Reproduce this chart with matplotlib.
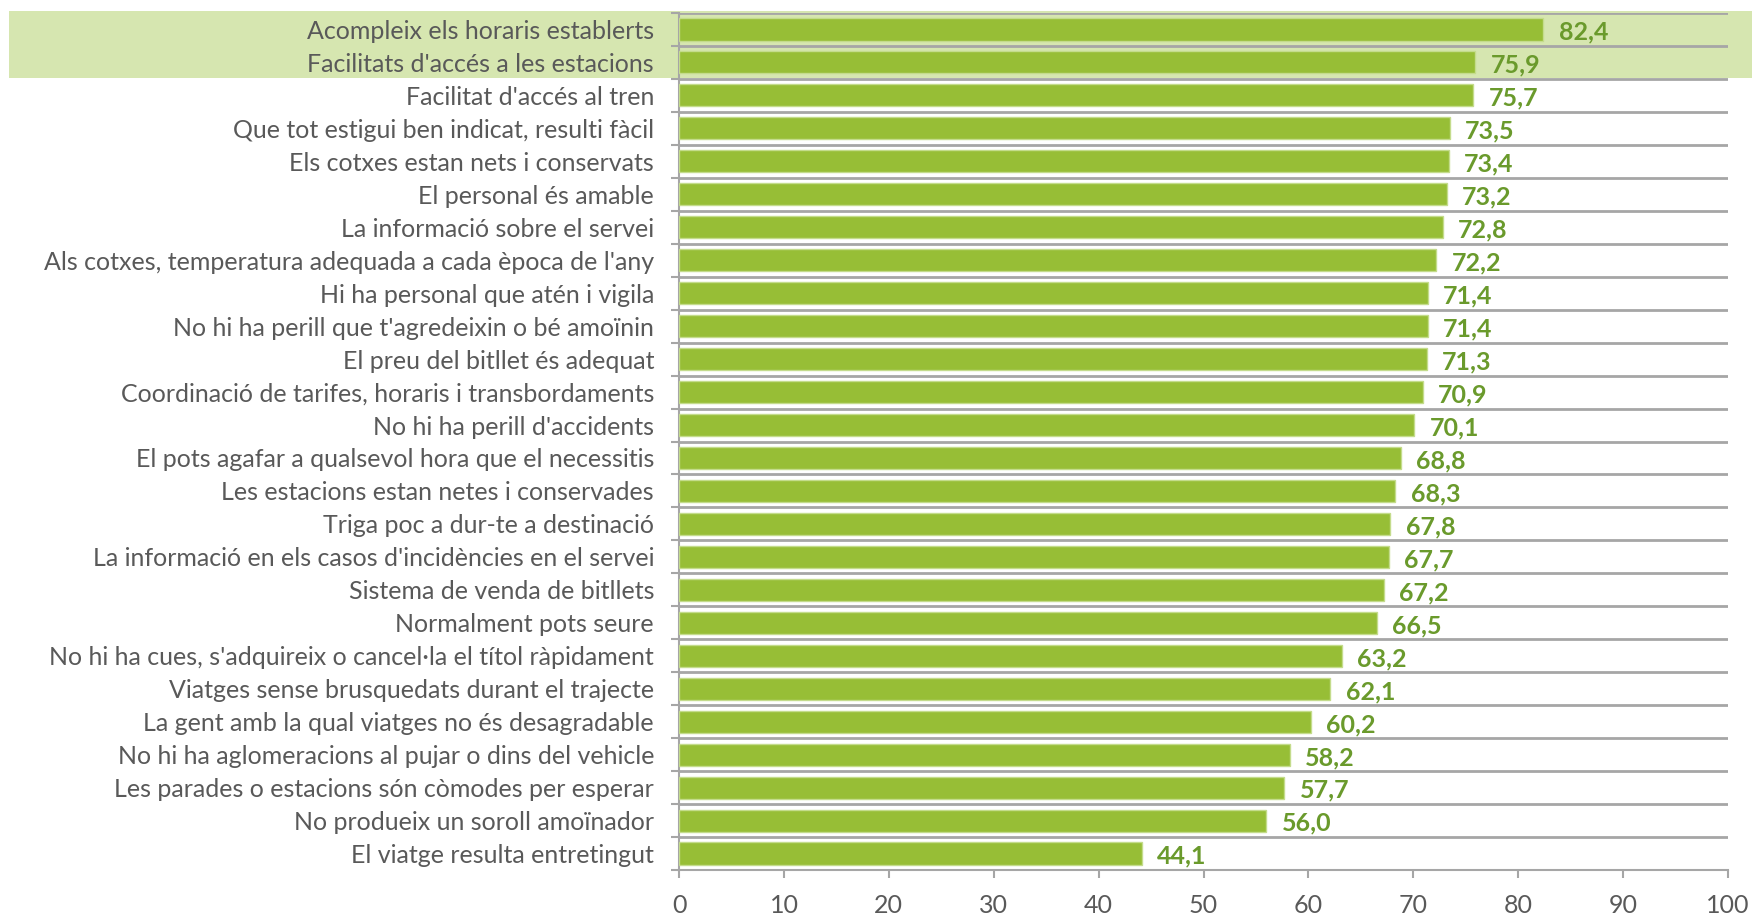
import matplotlib.pyplot as plt
from matplotlib.patches import Rectangle

# Dades (de dalt a baix)
categories = [
    "Acompleix els horaris establerts",
    "Facilitats d'accés a les estacions",
    "Facilitat d'accés al tren",
    "Que tot estigui ben indicat, resulti fàcil",
    "Els cotxes estan nets i conservats",
    "El personal és amable",
    "La informació sobre el servei",
    "Als cotxes, temperatura adequada a cada època de l'any",
    "Hi ha personal que atén i vigila",
    "No hi ha perill que t'agredeixin o bé amoïnin",
    "El preu del bitllet és adequat",
    "Coordinació de tarifes, horaris i transbordaments",
    "No hi ha perill d'accidents",
    "El pots agafar a qualsevol hora que el necessitis",
    "Les estacions estan netes i conservades",
    "Triga poc a dur-te a destinació",
    "La informació en els casos d'incidències en el servei",
    "Sistema de venda de bitllets",
    "Normalment pots seure",
    "No hi ha cues, s'adquireix o cancel·la el títol ràpidament",
    "Viatges sense brusquedats durant el trajecte",
    "La gent amb la qual viatges no és desagradable",
    "No hi ha aglomeracions al pujar o dins del vehicle",
    "Les parades o estacions són còmodes per esperar",
    "No produeix un soroll amoïnador",
    "El viatge resulta entretingut",
]
values = [82.4, 75.9, 75.7, 73.5, 73.4, 73.2, 72.8, 72.2, 71.4, 71.4, 71.3,
          70.9, 70.1, 68.8, 68.3, 67.8, 67.7, 67.2, 66.5, 63.2, 62.1, 60.2,
          58.2, 57.7, 56.0, 44.1]
xticks = list(range(0, 101, 10))

bar_color = '#97BE36'
label_green = '#6A9A2C'
text_gray = '#595959'
grid_gray = '#A6A6A6'

plt.rcParams['font.family'] = ['Lato', 'DejaVu Sans']

fig = plt.figure(figsize=(17.52, 9.16), dpi=100)
ax = fig.add_axes([0.3876, 0.0502, 0.5987, 0.9356])
ax.set_facecolor('none')

# Franja destacada de les dues primeres files
fig.patches.append(Rectangle((0.0051, 0.9148), 0.9949, 0.0732, transform=fig.transFigure,
                             facecolor='#D6E6B0', edgecolor='none', zorder=-10))

n = len(categories)
ypos = [n - 1 - i for i in range(n)]

ax.barh(ypos, values, height=0.67, color=bar_color, edgecolor='#C4DC8C',
        linewidth=1, zorder=3)

for y, v in zip(ypos, values):
    ax.annotate(f"{v:.1f}".replace('.', ','), xy=(v, y), xytext=(11, -2),
                textcoords='offset points', va='center', ha='left',
                fontsize=18, fontweight='bold', color=label_green)

ax.set_xlim(0, 100)
ax.set_ylim(-0.5, n - 0.5)
ax.set_xticks(xticks)
ax.set_xticklabels([str(t) for t in xticks])
ax.set_yticks(ypos)
ax.set_yticklabels(categories)
ax.set_yticks([i - 0.5 for i in range(n + 1)], minor=True)

ax.tick_params(axis='y', which='major', length=0, pad=18, labelsize=18,
               labelcolor=text_gray)
ax.tick_params(axis='y', which='minor', length=6, width=1.5, color=grid_gray)
ax.tick_params(axis='x', length=6, width=1.5, color=grid_gray, pad=11,
               labelsize=18, labelcolor=text_gray)

ax.grid(axis='y', which='minor', color=grid_gray, linewidth=2, zorder=1)
ax.set_axisbelow(True)

for side in ['top', 'right']:
    ax.spines[side].set_visible(False)
for side in ['left', 'bottom']:
    ax.spines[side].set_color(grid_gray)
    ax.spines[side].set_linewidth(1.5)

plt.savefig('out.png', dpi=100)
